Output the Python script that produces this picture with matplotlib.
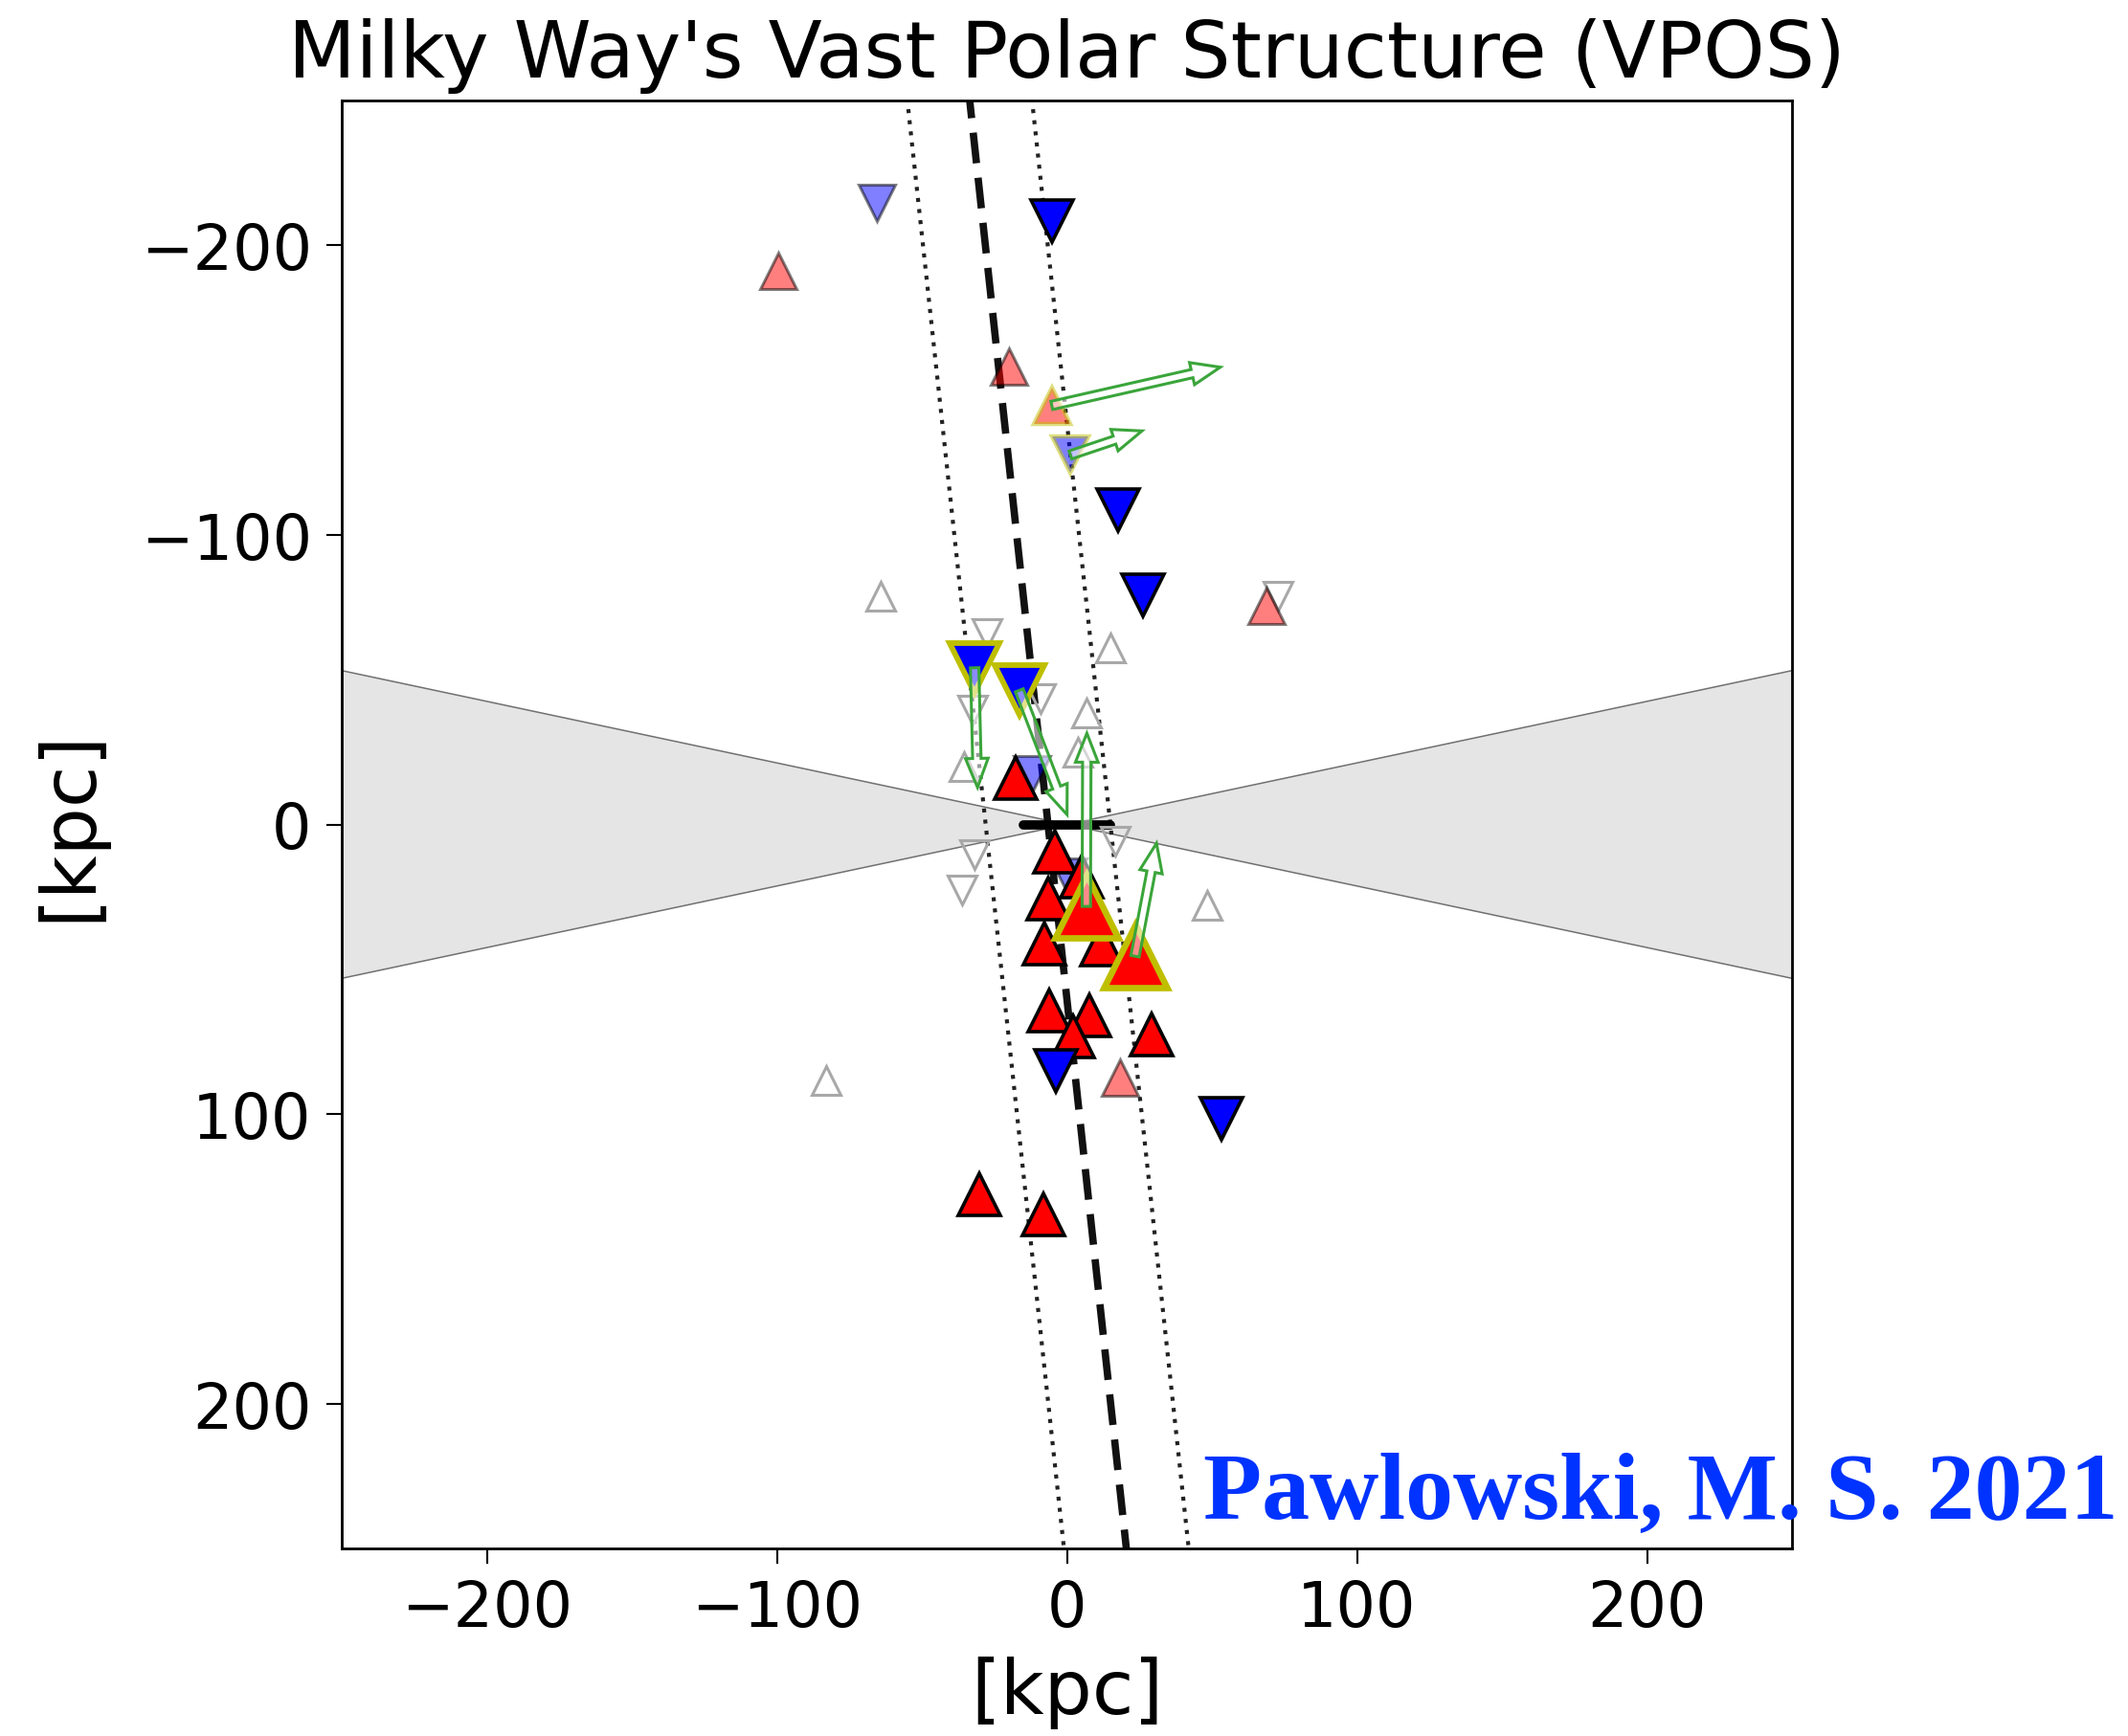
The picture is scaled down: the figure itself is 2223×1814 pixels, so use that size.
import numpy as np
import matplotlib
matplotlib.use("Agg")
import matplotlib.pyplot as plt

# ---------------- data (kpc) ----------------
# solid red up-triangles
red_x = [-17.6, -4.2, 5.0, -6.5, -7.7, 12.1, 24.3, -6.0, 7.8, 2.2, 29.2, -30.2, -8.2]
red_y = [-16.1, 9.5, 18.0, 25.5, 41.2, 41.5, 43.9, 64.3, 66.0, 73.1, 72.6, 127.6, 134.8]
# solid blue down-triangles
blue_x = [-5.1, 17.7, 26.3, -3.8, 53.4]
blue_y = [-208.2, -108.6, -79.0, 85.2, 101.7]
# faint red up-triangles
fred_x = [-99.5, -20.0, 68.8, 18.2]
fred_y = [-191.2, -158.1, -75.5, 87.4]
# faint blue down-triangles
fblue_x = [-65.4, -12.0, 0.5]
fblue_y = [-214.8, -17.2, 18.0]
# grey open up-triangles
gup_x = [-64.3, 14.9, 6.7, 3.8, -35.4, 48.4, -83.0]
gup_y = [-78.8, -61.0, -38.5, -24.9, -19.9, 28.0, 88.5]
# grey open down-triangles
gdn_x = [72.7, -27.5, -9.0, -32.6, 16.6, -31.8, -36.2]
gdn_y = [-78.8, -66.0, -43.5, -39.5, 5.9, 10.3, 22.5]
# highlighted satellites with proper-motion arrows
hl_kind = ["faint_red", "faint_blue", "blue", "blue", "red", "red"]
hl_x = [-5.2, 1.2, -31.8, -16.4, 6.7, 23.5]
hl_y = [-144.7, -127.6, -54.1, -46.3, 28.3, 45.5]
hl_end_x = [52.9, 25.9, -30.8, 0.05, 6.9, 30.9]
hl_end_y = [-157.9, -135.9, -12.8, -3.4, -31.5, 6.5]

# plane fit (VPOS) and zone of avoidance
plane_x0 = -6.5       # x at y = 0
plane_slope = 0.108   # dx / dy
plane_halfwidth = 21.5
zoa_deg = 12.0
disk_radius = 15.0

# ---------------- figure ----------------
W, H = 2223, 1815
fig = plt.figure(figsize=(W / 100, H / 100), dpi=100)
ax = fig.add_axes([357 / W, 1 - 1619 / H, (1872 - 357) / W, (1619 - 106) / H])
ax.set_xlim(-250, 250)
ax.set_ylim(250, -250)

# zone of avoidance wedge
t = np.tan(np.radians(zoa_deg))
for s in (-1, 1):
    ax.fill([s * 260, 0, s * 260], [-260 * t, 0, 260 * t], color="#e5e5e5", lw=0, zorder=0.5)
ax.plot([-260, 260], [-260 * t, 260 * t], color="#707070", lw=1.1, zorder=0.6)
ax.plot([-260, 260], [260 * t, -260 * t], color="#707070", lw=1.1, zorder=0.6)

# plane lines
yy = np.array([-270.0, 270.0])
xx = plane_x0 + plane_slope * yy
ax.plot(xx, yy, color="#111111", lw=5.5, ls=(0, (4.2, 2.0)), zorder=1.5)
off = plane_halfwidth
for s in (-1, 1):
    ax.plot(xx + s * off, yy, color="#222222", lw=3.0, ls=(0, (1, 1.8)), zorder=1.4)

# MW disk
ax.plot([-disk_radius, disk_radius], [0, 0], color="black", lw=7,
        solid_capstyle="round", zorder=2)

# grey open markers
ax.plot(gup_x, gup_y, ls="none", marker="^", ms=21, mfc="none", mec="#a8a8a8", mew=2.2, zorder=3)
ax.plot(gdn_x, gdn_y, ls="none", marker="v", ms=21, mfc="none", mec="#a8a8a8", mew=2.2, zorder=3)

# faint markers
ax.plot(fred_x, fred_y, ls="none", marker="^", ms=28, mfc="red", mec="black", mew=2.2,
        alpha=0.5, zorder=3.2)
ax.plot(fblue_x, fblue_y, ls="none", marker="v", ms=28, mfc="blue", mec="black", mew=2.2,
        alpha=0.5, zorder=3.2)

# solid markers
ax.plot(red_x, red_y, ls="none", marker="^", ms=31, mfc="red", mec="black", mew=2.6, zorder=4)
ax.plot(blue_x, blue_y, ls="none", marker="v", ms=31, mfc="blue", mec="black", mew=2.6, zorder=4)

# highlighted markers with arrows
styles = {
    "faint_red": dict(marker="^", ms=28, mfc="red", alpha=0.5, mew=3.2),
    "faint_blue": dict(marker="v", ms=28, mfc="blue", alpha=0.5, mew=3.2),
    "blue": dict(marker="v", ms=37, mfc="blue", alpha=1.0, mew=4.2),
    "red": dict(marker="^", ms=48, mfc="red", alpha=1.0, mew=4.8),
}
for k, x, y in zip(hl_kind, hl_x, hl_y):
    st = styles[k]
    ax.plot([x], [y], ls="none", marker=st["marker"], ms=st["ms"], mfc=st["mfc"],
            mec=(0.75, 0.75, 0.0), mew=st["mew"], alpha=st["alpha"], zorder=5)
for x, y, ex, ey in zip(hl_x, hl_y, hl_end_x, hl_end_y):
    ax.arrow(x, y, ex - x, ey - y, width=2.9, head_width=7.8, head_length=10.0,
             length_includes_head=True, fc=(1, 1, 1, 0.55), ec="#3aa53a", lw=2.2, zorder=6)

# axes styling
for sp in ax.spines.values():
    sp.set_linewidth(2.0)
ax.set_xticks([-200, -100, 0, 100, 200])
ax.set_yticks([-200, -100, 0, 100, 200])
ax.tick_params(labelsize=47, length=11.5, width=1.5, pad=11)
ax.set_xlabel("[kpc]", fontsize=57, labelpad=12)
ax.set_ylabel("[kpc]", fontsize=57, labelpad=26)
ax.set_title("Milky Way's Vast Polar Structure (VPOS)", fontsize=59, pad=18)

fig.text(1257 / W, 1 - 1587 / H, "Pawlowski, M. S. 2021", fontsize=72,
         family="Liberation Serif", weight="bold", color="#0033ff", va="baseline", ha="left")

fig.savefig("out.png", dpi=100)
